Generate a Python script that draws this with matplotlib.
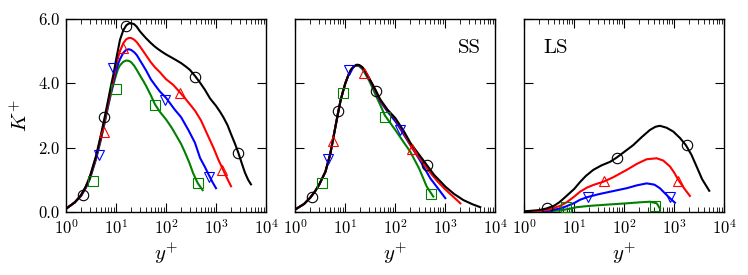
import matplotlib
matplotlib.use('Agg')
import matplotlib.pyplot as plt
import matplotlib.ticker as tck

plt.rcParams['font.family'] = 'serif'
plt.rcParams['font.serif'] = ['cmr10', 'DejaVu Serif']
plt.rcParams['mathtext.fontset'] = 'cm'
plt.rcParams['axes.formatter.use_mathtext'] = True
plt.rcParams['axes.unicode_minus'] = False

COLORS = {'black': 'k', 'red': '#ff0000', 'blue': '#0000ff', 'green': '#008000'}
MARKERS = {'black': 'o', 'red': '^', 'blue': 'v', 'green': 's'}

# ---- panel 1: total K+ ----
p1_black_y = [1, 1.5, 2, 2.5, 3, 4, 5, 6, 7, 8, 9, 10, 11, 12, 14, 16, 18, 20, 23, 26,
              30, 35, 40, 50, 60, 70, 85, 100, 130, 160, 200, 250, 300, 380, 480, 600,
              760, 1000, 1200, 1400, 1700, 2000, 2400, 2800, 3300, 3800, 4400, 5000]
p1_black_k = [0.1, 0.3, 0.53, 0.8, 1.1, 1.75, 2.4, 2.98, 3.5, 3.95, 4.32, 4.72, 5.05,
              5.35, 5.65, 5.8, 5.86, 5.87, 5.84, 5.76, 5.62, 5.5, 5.4, 5.25, 5.14, 5.06,
              4.97, 4.9, 4.8, 4.72, 4.63, 4.52, 4.42, 4.23, 4.02, 3.8, 3.53, 3.3, 3.12,
              2.95, 2.7, 2.42, 2.12, 1.84, 1.5, 1.22, 1.0, 0.86]
p1_red_y = [1, 1.5, 2, 2.5, 3, 4, 5, 6, 7, 8, 9, 10, 11, 12, 14, 16, 18, 20, 23, 26, 30,
            35, 40, 50, 60, 75, 100, 140, 190, 260, 380, 500, 700, 900, 1120, 1400, 1700,
            2000]
p1_red_k = [0.1, 0.3, 0.52, 0.79, 1.08, 1.72, 2.35, 2.9, 3.4, 3.82, 4.18, 4.5, 4.8, 5.0,
            5.25, 5.37, 5.41, 5.41, 5.36, 5.28, 5.15, 5.0, 4.87, 4.65, 4.5, 4.35, 4.13,
            3.95, 3.72, 3.47, 3.15, 2.85, 2.35, 1.98, 1.62, 1.3, 1.02, 0.8]
p1_blue_y = [1, 1.5, 2, 2.5, 3, 4, 5, 6, 7, 8, 9, 10, 11, 12, 14, 16, 18, 20, 23, 26, 30,
             35, 40, 50, 60, 75, 100, 150, 200, 280, 380, 480, 600, 720, 850, 1000]
p1_blue_k = [0.1, 0.3, 0.5, 0.77, 1.05, 1.68, 2.3, 2.85, 3.35, 3.75, 4.08, 4.38, 4.6,
             4.75, 4.95, 5.04, 5.06, 5.04, 4.97, 4.88, 4.72, 4.55, 4.4, 4.12, 3.95, 3.75,
             3.55, 3.18, 2.95, 2.55, 2.15, 1.68, 1.4, 1.15, 0.93, 0.74]
p1_green_y = [1, 1.5, 2, 2.5, 3, 4, 5, 6, 7, 8, 9, 10, 11, 12, 14, 16, 18, 20, 23, 26, 30,
              35, 40, 50, 60, 75, 100, 130, 160, 200, 240, 290, 350, 430, 540]
p1_green_k = [0.1, 0.3, 0.5, 0.75, 1.02, 1.65, 2.25, 2.8, 3.3, 3.7, 4.0, 4.25, 4.45, 4.56,
              4.67, 4.71, 4.7, 4.66, 4.55, 4.42, 4.25, 4.08, 3.92, 3.62, 3.35, 3.12, 2.88,
              2.62, 2.38, 2.12, 1.85, 1.55, 1.2, 0.9, 0.68]

p1_black_my = [2.15, 5.85, 15.8, 380, 2800]
p1_black_mk = [0.53, 2.96, 5.77, 4.21, 1.84]
p1_red_my = [5.66, 14, 190, 1300]
p1_red_mk = [2.5, 5.09, 3.69, 1.3]
p1_blue_my = [4.5, 8.9, 95, 740]
p1_blue_mk = [1.77, 4.47, 3.48, 1.1]
p1_green_my = [3.4, 10, 60, 430]
p1_green_mk = [0.97, 3.82, 3.33, 0.91]

# ---- panel 2: small scales (SS) ----
p2_wall_y = [1, 1.5, 2, 2.5, 3, 4, 5, 6, 7, 8, 9, 10, 11.5, 13, 15]
p2_wall_k = [0.08, 0.25, 0.45, 0.65, 0.85, 1.25, 1.8, 2.45, 3.0, 3.45, 3.75, 4.0, 4.25,
             4.42, 4.53]
p2_black_y = p2_wall_y + [17, 19, 22, 25, 30, 35, 40, 50, 70, 100, 150, 200, 300, 400,
                          600, 800, 1000, 1500, 2300, 3500, 5000]
p2_black_k = p2_wall_k + [4.58, 4.57, 4.5, 4.38, 4.16, 3.97, 3.8, 3.5, 3.18, 2.92, 2.5,
                          2.15, 1.78, 1.52, 1.15, 0.95, 0.79, 0.56, 0.37, 0.24, 0.15]
p2_red_y = p2_wall_y + [17, 19, 22, 25, 30, 35, 40, 50, 70, 100, 150, 219, 300, 500, 700,
                        1000, 1500, 2000]
p2_red_k = p2_wall_k + [4.57, 4.56, 4.49, 4.37, 4.15, 3.96, 3.79, 3.47, 3.16, 2.9, 2.45,
                        1.98, 1.7, 1.22, 0.95, 0.7, 0.45, 0.27]
p2_blue_y = p2_wall_y + [17, 19, 22, 25, 30, 35, 40, 50, 70, 100, 124, 200, 300, 500, 700,
                         1000]
p2_blue_k = p2_wall_k + [4.57, 4.55, 4.48, 4.36, 4.13, 3.94, 3.77, 3.44, 3.12, 2.82, 2.6,
                         2.08, 1.65, 1.05, 0.75, 0.43]
p2_green_y = p2_wall_y + [17, 19, 22, 25, 30, 35, 40, 50, 62, 100, 150, 200, 300, 425, 575]
p2_green_k = p2_wall_k + [4.55, 4.53, 4.44, 4.3, 4.08, 3.86, 3.65, 3.33, 3.0, 2.55, 2.15,
                          1.87, 1.35, 0.79, 0.48]

p2_black_my = [2.13, 7.2, 41, 425]
p2_black_mk = [0.48, 3.14, 3.77, 1.46]
p2_red_my = [5.75, 24, 219]
p2_red_mk = [2.22, 4.33, 1.96]
p2_blue_my = [4.45, 12, 124]
p2_blue_mk = [1.64, 4.41, 2.55]
p2_green_my = [3.4, 9.1, 62, 515]
p2_green_mk = [0.91, 3.69, 2.96, 0.56]

# ---- panel 3: large scales (LS) ----
p3_black_y = [1, 2, 2.8, 4, 5, 7, 10, 13, 17, 24, 35, 52, 70, 100, 151, 220, 325, 420,
              515, 700, 955, 1300, 1700, 2200, 2800, 3600, 5000]
p3_black_k = [0.02, 0.06, 0.11, 0.2, 0.3, 0.5, 0.72, 0.93, 1.12, 1.31, 1.45, 1.56, 1.69,
              1.87, 2.08, 2.32, 2.55, 2.65, 2.68, 2.62, 2.5, 2.3, 2.08, 1.78, 1.41, 1.02,
              0.66]
p3_red_y = [1, 2, 3, 5.2, 7, 10, 13, 18, 25, 38, 60, 112, 180, 280, 445, 600, 815, 1000,
            1200, 1600, 2050]
p3_red_k = [0.01, 0.03, 0.07, 0.19, 0.3, 0.48, 0.63, 0.76, 0.85, 0.94, 1.08, 1.31, 1.5,
            1.64, 1.67, 1.6, 1.42, 1.22, 1.0, 0.72, 0.5]
p3_blue_y = [1, 2, 3, 5.2, 7, 10, 13, 18, 30, 52, 112, 180, 280, 400, 515, 650, 815, 1030]
p3_blue_k = [0.01, 0.02, 0.04, 0.11, 0.18, 0.28, 0.38, 0.46, 0.55, 0.63, 0.74, 0.83, 0.89,
             0.85, 0.74, 0.58, 0.43, 0.29]
p3_green_y = [1, 3, 5.2, 8, 11.2, 20, 46, 112, 200, 325, 445, 515]
p3_green_k = [0.0, 0.02, 0.05, 0.1, 0.15, 0.19, 0.23, 0.27, 0.3, 0.32, 0.27, 0.11]

p3_black_my = [2.8, 70, 1770]
p3_black_mk = [0.12, 1.67, 2.08]
p3_red_my = [39, 1200]
p3_red_mk = [0.95, 0.97]
p3_blue_my = [19, 815]
p3_blue_mk = [0.46, 0.48]
p3_green_my = [6.8, 410]
p3_green_mk = [0.15, 0.19]

panels = [
    {
        'lines': {
            'green': (p1_green_y, p1_green_k), 'blue': (p1_blue_y, p1_blue_k),
            'red': (p1_red_y, p1_red_k), 'black': (p1_black_y, p1_black_k),
        },
        'marks': {
            'green': (p1_green_my, p1_green_mk), 'blue': (p1_blue_my, p1_blue_mk),
            'red': (p1_red_my, p1_red_mk), 'black': (p1_black_my, p1_black_mk),
        },
        'label': None,
    },
    {
        'lines': {
            'green': (p2_green_y, p2_green_k), 'blue': (p2_blue_y, p2_blue_k),
            'red': (p2_red_y, p2_red_k), 'black': (p2_black_y, p2_black_k),
        },
        'marks': {
            'green': (p2_green_my, p2_green_mk), 'blue': (p2_blue_my, p2_blue_mk),
            'red': (p2_red_my, p2_red_mk), 'black': (p2_black_my, p2_black_mk),
        },
        'label': ('SS', 0.93, 'right'),
    },
    {
        'lines': {
            'green': (p3_green_y, p3_green_k), 'blue': (p3_blue_y, p3_blue_k),
            'red': (p3_red_y, p3_red_k), 'black': (p3_black_y, p3_black_k),
        },
        'marks': {
            'green': (p3_green_my, p3_green_mk), 'blue': (p3_blue_my, p3_blue_mk),
            'red': (p3_red_my, p3_red_mk), 'black': (p3_black_my, p3_black_mk),
        },
        'label': ('LS', 0.095, 'left'),
    },
]

fig = plt.figure(figsize=(7.48, 2.75), dpi=100)
lefts = [66 / 748, 295.3 / 748, 524.3 / 748]
for i, (left, panel) in enumerate(zip(lefts, panels)):
    ax = fig.add_axes([left, 63 / 275, 200 / 748, 193 / 275])
    for name, (y, k) in panel['lines'].items():
        ax.plot(y, k, color=COLORS[name], linewidth=1.5, zorder=3)
    for name, (y, k) in panel['marks'].items():
        ax.plot(y, k, linestyle='none', marker=MARKERS[name], markersize=7.5,
                markerfacecolor='none', markeredgecolor=COLORS[name],
                markeredgewidth=0.8, zorder=4)
    ax.set_xscale('log')
    ax.set_xlim(1, 1e4)
    ax.set_ylim(0, 6)
    ax.set_yticks([0, 2, 4, 6])
    ax.xaxis.set_major_locator(tck.LogLocator(base=10, numticks=10))
    ax.xaxis.set_minor_locator(tck.LogLocator(base=10, subs=range(2, 10), numticks=10))
    ax.xaxis.set_minor_formatter(tck.NullFormatter())
    ax.tick_params(which='both', direction='in', top=True, right=True, labelsize=12)
    ax.tick_params(which='major', length=6.5, width=0.8, pad=4.5)
    ax.tick_params(which='minor', length=3.5, width=0.6)
    for sp in ax.spines.values():
        sp.set_linewidth(1.0)
    ax.set_xlabel(r'$y^{+}$', fontsize=15, labelpad=3)
    if i == 0:
        ax.yaxis.set_major_formatter(tck.FormatStrFormatter('%.1f'))
        ax.set_ylabel(r'$K^{+}$', fontsize=15, labelpad=5)
    else:
        ax.set_yticklabels([])
    if panel['label']:
        text, x, ha = panel['label']
        ax.text(x, 0.85, text, transform=ax.transAxes, ha=ha, va='center', fontsize=15)

fig.savefig('out.png', dpi=100)
